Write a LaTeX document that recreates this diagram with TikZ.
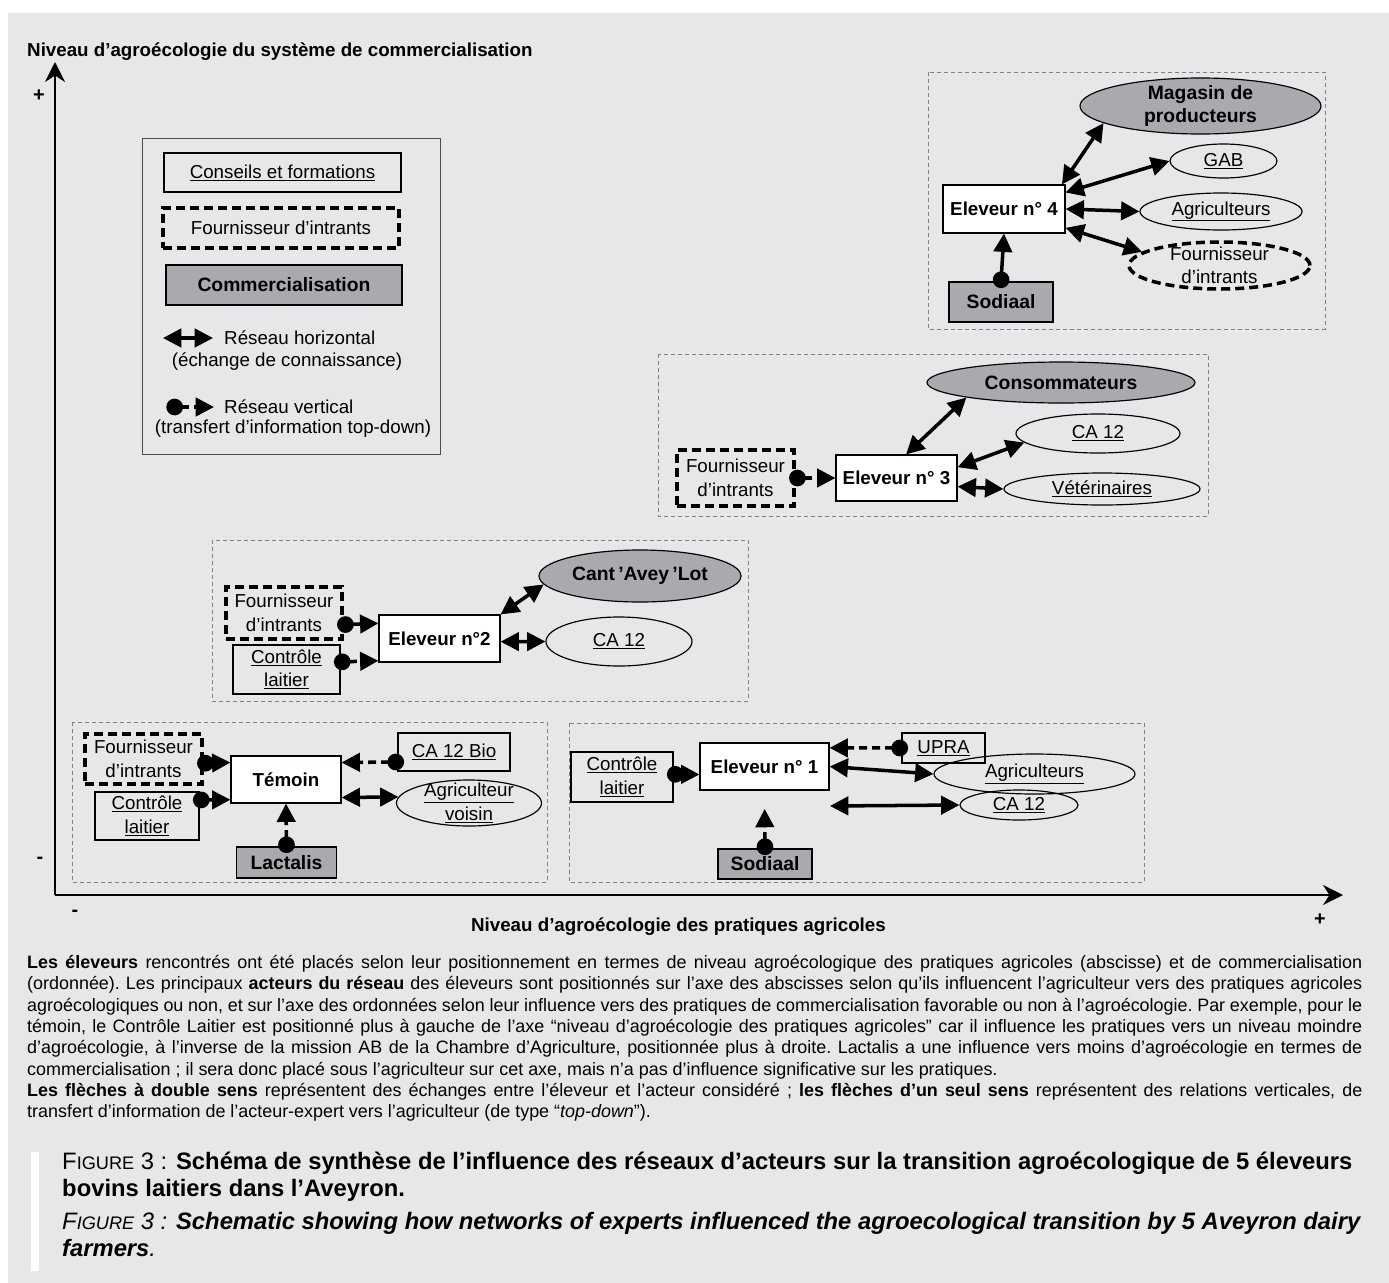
\documentclass[tikz,border=0pt]{standalone}
\usepackage{fontspec}
\setmainfont{Liberation Sans}
\usetikzlibrary{positioning}
\usetikzlibrary{shapes.geometric}
\usetikzlibrary{arrows.meta}

\definecolor{pagegray}{HTML}{E6E7E8}
\definecolor{salegray}{HTML}{A8AAAD}
\definecolor{framegray}{HTML}{808080}

\begin{document}
\begin{tikzpicture}[x=0.03cm, y=-0.03cm,
        % Define a standard style for all boxes to keep code clean
        box/.style={draw, line width=1pt, align=center, inner sep=2pt,
        font=\fontsize{16}{20}\selectfont},
        farmbox/.style={box, fill=white, font=\fontsize{16}{20}\selectfont\bfseries},
        supplybox/.style={box, line width=3pt, dash pattern=on 0.27cm off 0.15cm},
        salebox/.style={box, fill=salegray, font=\fontsize{16.5}{20}\selectfont\bfseries},
        % Ellipses for the actors round a farmer
        actor/.style={box, ellipse, inner xsep=0pt, inner ysep=-0.2cm},
        saleactor/.style={actor, fill=salegray, font=\fontsize{16.5}{20}\selectfont\bfseries},
        supplyactor/.style={actor, line width=3pt, dash pattern=on 0.27cm off 0.15cm},
        % Thin dashed frame round each farmer
        groupframe/.style={draw=framegray, line width=0.6pt, dash pattern=on 0.12cm off 0.09cm},
        % Horizontal and vertical network links
        hnet/.style={line width=3pt,
        {Triangle[length=0.55cm,width=0.55cm]}-{Triangle[length=0.55cm,width=0.55cm]}},
        vnet/.style={line width=3pt, dash pattern=on 0.24cm off 0.15cm,
        {Circle[length=0.5cm]}-{Triangle[length=0.55cm,width=0.55cm]}, shorten <=-0.2cm},
        axis/.style={line width=1.2pt, -{Stealth[length=0.6cm,width=0.6cm]}},
        % Style for the label text outside boxes
        labeltext/.style={font=\fontsize{16}{20}\selectfont, inner sep=0pt},
        signtext/.style={font=\fontsize{17}{20}\selectfont\bfseries, inner sep=0pt}
    ]

    % --- Page background ---
    \useasboundingbox (0,0) rectangle (1389,1283);
    \fill[white] (0,0) rectangle (1389,1283);
    \fill[pagegray] (8,13) rectangle (1389,1283);

    % --- Axes ---
    \coordinate (origin) at (55,895);
    \coordinate (y_tip) at (55,62);
    \coordinate (x_tip) at (1343,895);
    \draw[axis] (origin) -- (y_tip);
    \draw[axis] (origin) -- (x_tip);
    \node[labeltext, font=\fontsize{16}{20}\selectfont\bfseries, anchor=west] (y_title) at (27,52)
        {Niveau d’agroécologie du système de commercialisation};
    \node[labeltext, font=\fontsize{16}{20}\selectfont\bfseries, anchor=east] (x_title) at (886,927)
        {Niveau d’agroécologie des pratiques agricoles};
    \node[signtext] (y_plus) at (39,96) {+};
    \node[signtext] (y_minus) at (40,860) {-};
    \node[signtext] (x_minus) at (75,913) {-};
    \node[signtext] (x_plus) at (1320,920) {+};

    % --- Legend ---
    \draw[draw=black!70, line width=0.8pt] (142,138) rectangle (440,454);
    \node[box, minimum width=7.11cm, minimum height=1.17cm] (leg_advice) at (282.5,172.5)
        {\underline{Conseils et formations}};
    \node[supplybox, minimum width=7.08cm, minimum height=1.2cm] (leg_supply) at (281,228)
        {Fournisseur d’intrants};
    \node[salebox, minimum width=7.08cm, minimum height=1.2cm] (leg_sale) at (284,285)
        {Commercialisation};
    % 1. Horizontal network
    \coordinate (leg_h_from) at (163,338);
    \coordinate (leg_h_to) at (213,338);
    \draw[hnet] (leg_h_from) -- (leg_h_to);
    \node[labeltext, anchor=west] (leg_h_text) at (224,338) {Réseau horizontal};
    \node[labeltext] (leg_h_note) at (287,362) {(échange de connaissance)};
    % 2. Vertical network
    \coordinate (leg_v_from) at (173,407);
    \coordinate (leg_v_to) at (214,407);
    \draw[vnet] (leg_v_from) -- (leg_v_to);
    \node[labeltext, anchor=west] (leg_v_text) at (224,407) {Réseau vertical};
    \node[labeltext] (leg_v_note) at (293,429) {(transfert d’information top-down)};

    % --- Farmer 4 ---
    \draw[groupframe] (928,72) rectangle (1325,329);
    \node[farmbox, minimum width=3.66cm, minimum height=1.44cm] (g4_farm) at (1004,209) {Eleveur n° 4};
    \node[saleactor, minimum width=7.23cm, minimum height=1.68cm] (g4_shop) at (1200.5,106)
        {Magasin de\\producteurs};
    \node[actor, minimum width=3.21cm, minimum height=1.02cm] (g4_gab) at (1223.5,161) {\underline{GAB}};
    \node[actor, minimum width=4.86cm, minimum height=1.11cm] (g4_farmers) at (1221,211.5)
        {\underline{Agriculteurs}};
    \node[supplyactor, minimum width=5.43cm, minimum height=1.41cm] (g4_supply) at (1219.5,265.5)
        {Fournisseur\\d’intrants};
    \node[salebox, minimum width=3.12cm, minimum height=1.2cm] (g4_dairy) at (1001,302) {Sodiaal};
    \draw[hnet] (g4_farm.23) -- (g4_shop.190);
    \draw[hnet] (g4_farm.15) -- (g4_gab.west);
    \draw[hnet] (g4_farm.east) -- (g4_farmers.west);
    \draw[hnet] (g4_farm.-17) -- (g4_supply.170);
    \draw[vnet, solid] (g4_dairy.north) -- (g4_farm.south);

    % --- Farmer 3 ---
    \draw[groupframe] (658,354) rectangle (1208,516);
    \node[farmbox, minimum width=3.63cm, minimum height=1.38cm] (g3_farm) at (896.5,478) {Eleveur n° 3};
    \node[supplybox, minimum width=3.51cm, minimum height=1.68cm] (g3_supply) at (735.5,478)
        {Fournisseur\\d’intrants};
    \node[saleactor, minimum width=8.04cm, minimum height=1.23cm] (g3_shop) at (1061,382.5) {Consommateurs};
    \node[actor, minimum width=4.92cm, minimum height=1.17cm] (g3_ca) at (1098,433.5) {\underline{CA 12}};
    \node[actor, minimum width=5.88cm, minimum height=0.96cm] (g3_vet) at (1102,489) {\underline{Vétérinaires}};
    \draw[vnet] (g3_supply.east) -- (g3_farm.west);
    \draw[hnet] (g3_farm.68) -- (g3_shop.189);
    \draw[hnet] (g3_farm.10) -- (g3_ca.187);
    \draw[hnet] (g3_farm.-8) -- (g3_vet.west);

    % --- Farmer 2 ---
    \draw[groupframe] (212,540) rectangle (748,701);
    \node[farmbox, minimum width=3.63cm, minimum height=1.41cm] (g2_farm) at (439.5,638.5) {Eleveur n°2};
    \node[supplybox, minimum width=3.48cm, minimum height=1.56cm] (g2_supply) at (284,613)
        {Fournisseur\\d’intrants};
    \node[box, minimum width=3.21cm, minimum height=1.47cm] (g2_milk) at (286.5,669.5)
        {\underline{Contrôle}\\\underline{laitier}};
    \node[saleactor, minimum width=6.06cm, minimum height=1.56cm] (g2_shop) at (640,576)
        {Cant\,’Avey\,’Lot};
    \node[actor, minimum width=4.38cm, minimum height=1.47cm] (g2_ca) at (619,641.5) {\underline{CA 12}};
    \draw[vnet] (g2_supply.-11) -- (g2_farm.166);
    \draw[vnet] (g2_milk.8) -- (g2_farm.200);
    \draw[hnet] (g2_farm.north east) -- (g2_shop.185);
    \draw[hnet] (g2_farm.-3) -- (g2_ca.west);

    % --- Control farmer (Témoin) ---
    \draw[groupframe] (72,722) rectangle (547,882);
    \node[farmbox, minimum width=3.3cm, minimum height=1.41cm] (g0_farm) at (286,779.5) {Témoin};
    \node[supplybox, minimum width=3.51cm, minimum height=1.5cm] (g0_supply) at (143.5,759)
        {Fournisseur\\d’intrants};
    \node[box, minimum width=3.12cm, minimum height=1.44cm] (g0_milk) at (147,816)
        {\underline{Contrôle}\\\underline{laitier}};
    \node[box, minimum width=3.36cm, minimum height=1.14cm] (g0_ca) at (454,752) {\underline{CA 12 Bio}};
    \node[actor, minimum width=4.35cm, minimum height=1.38cm] (g0_neighbour) at (469,803)
        {\underline{Agriculteur}\\\underline{voisin}};
    \node[salebox, minimum width=3cm, minimum height=0.93cm] (g0_dairy) at (286.5,862.5) {Lactalis};
    \draw[vnet] (g0_supply.-4) -- (g0_farm.163);
    \draw[vnet] (g0_milk.17) -- (g0_farm.200);
    \draw[vnet] (g0_ca.190) -- (g0_farm.17);
    \draw[hnet] (g0_farm.-18) -- (g0_neighbour.175);
    \draw[vnet] (g0_dairy.north) -- (g0_farm.south);

    % --- Farmer 1 ---
    \draw[groupframe] (569,723) rectangle (1144,882);
    \node[farmbox, minimum width=3.87cm, minimum height=1.41cm] (g1_farm) at (764.5,766.5) {Eleveur n° 1};
    \node[box, minimum width=3.06cm, minimum height=1.5cm] (g1_milk) at (622,777)
        {\underline{Contrôle}\\\underline{laitier}};
    \node[box, minimum width=2.49cm, minimum height=0.9cm] (g1_upra) at (943.5,748) {\underline{UPRA}};
    \node[actor, minimum width=6.03cm, minimum height=1.2cm] (g1_farmers) at (1034.5,774)
        {\underline{Agriculteurs}};
    \node[actor, minimum width=3.54cm, minimum height=0.9cm] (g1_ca) at (1019,805) {\underline{CA 12}};
    \node[salebox, minimum width=2.82cm, minimum height=0.9cm] (g1_dairy) at (765,864) {Sodiaal};
    \coordinate (g1_ca_from) at (830,806);
    \draw[vnet] (g1_milk.3) -- (g1_farm.187);
    \draw[vnet] (g1_upra.west) -- (g1_farm.16);
    \draw[hnet] (g1_farm.east) -- (g1_farmers.west);
    \draw[hnet] (g1_ca_from) -- (g1_ca.west);
    \draw[vnet, shorten >=0.55cm] (g1_dairy.north) -- (g1_farm.south);

    % --- Notes below the chart ---
    \node[anchor=north west, inner sep=0pt, text width=40.05cm, align=justify,
        font=\fontsize{15.3}{18.2}\selectfont] (notes) at (27,955)
        {\frenchspacing\hyphenpenalty=10000\exhyphenpenalty=10000
        \textbf{Les éleveurs} rencontrés ont été placés selon leur positionnement en termes de niveau agroécologique des pratiques agricoles (abscisse) et de commercialisation\linebreak
        (ordonnée). Les principaux \textbf{acteurs du réseau} des éleveurs sont positionnés sur l’axe des abscisses selon qu’ils influencent l’agriculteur vers des pratiques agricoles\linebreak
        agroécologiques ou non, et sur l’axe des ordonnées selon leur influence vers des pratiques de commercialisation favorable ou non à l’agroécologie. Par exemple, pour le\linebreak
        témoin, le Contrôle Laitier est positionné plus à gauche de l’axe “niveau d’agroécologie des pratiques agricoles” car il influence les pratiques vers un niveau moindre\linebreak
        d’agroécologie, à l’inverse de la mission AB de la Chambre d’Agriculture, positionnée plus à droite. Lactalis a une influence vers moins d’agroécologie en termes de\linebreak
        commercialisation ; il sera donc placé sous l’agriculteur sur cet axe, mais n’a pas d’influence significative sur les pratiques.\\
        \textbf{Les flèches à double sens} représentent des échanges entre l’éleveur et l’acteur considéré ; \textbf{les flèches d’un seul sens} représentent des relations verticales, de\linebreak
        transfert d’information de l’acteur-expert vers l’agriculteur (de type “\textit{top-down}”).};

    % --- Caption ---
    \fill[white] (31,1152) rectangle (39,1271);
    \node[anchor=north west, inner sep=0pt, align=left,
        font=\fontsize{20.3}{23}\selectfont] (caption_fr) at (62,1152)
        {F{\fontsize{15.5}{17}\selectfont IGURE} 3 : \textbf{Schéma de synthèse de l’influence des réseaux d’acteurs sur la transition agroécologique de 5~éleveurs}\\
        \textbf{bovins laitiers dans l’Aveyron.}};
    \node[anchor=north west, inner sep=0pt, align=left,
        font=\fontsize{20.3}{23}\selectfont\itshape] (caption_en) at (62,1212)
        {F{\fontsize{15.5}{17}\selectfont IGURE} 3 : \textbf{Schematic showing how networks of experts influenced the agroecological transition by 5 Aveyron dairy}\\
        \textbf{farmers}.};

\end{tikzpicture}
\end{document}
